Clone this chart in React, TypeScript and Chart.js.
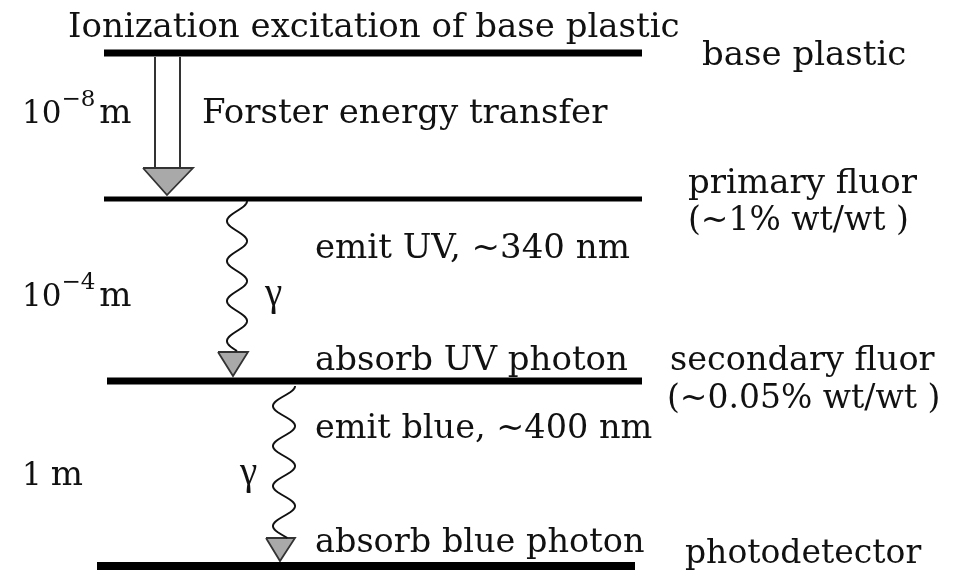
import React, { useEffect, useRef } from "react";
import { Chart, registerables } from "chart.js";
Chart.register(...registerables);

// ---- data (diagram content) ----
const caption = "Ionization excitation of base plastic";
const levelNames = ["base plastic", "primary fluor", "secondary fluor", "photodetector"];
const levelNotes = ["", "(~1% wt/wt )", "(~0.05% wt/wt )", ""];
const levelY = [53, 199, 381, 566];
const levelXStart = [104, 104, 107, 97];
const levelXEnd = [642, 642, 642, 635];
const transferLabels = ["Forster energy transfer", "emit UV, ~340 nm", "emit blue, ~400 nm"];
const absorbLabels = ["absorb UV photon", "absorb blue photon"];
const distanceBase = ["10", "10", "1"];
const distanceExp = ["\u22128", "\u22124", ""];
const photonSymbol = "\u03b3";

// ---- layout ----
const W = 959;
const H = 580;
const levelLineWidth = [7, 5, 7, 8];
const SERIF = '"DejaVu Serif", "Liberation Serif", serif';
const GREEK = '"Liberation Serif", "DejaVu Serif", serif';
const FS = 34;
const INK = "#111111";
const TRI_FILL = "#a9a9a9";
const TRI_EDGE = "#333333";

// Forster arrow: shafts and triangle
const shaftX = [155, 180];
const shaftTop = 57;
const shaftBottom = 169;
// triangles: [left, right, topY, apexX, apexY]
const triangles = [
  [143, 193, 168, 167, 195],
  [218, 248, 352, 233, 376],
  [266, 295, 538, 280, 561],
];
// waves: [centerX, amplitude, startY, endY]
const waves = [
  [237, 10, 201, 351],
  [284, 11, 386, 538],
];

const textItems: { t: string; x: number; y: number; font?: string; size?: number }[] = [
  { t: caption, x: 68, y: 37 },
  { t: levelNames[0], x: 702, y: 65 },
  { t: levelNames[1], x: 688, y: 193 },
  { t: levelNotes[1], x: 688, y: 230, size: 33 },
  { t: levelNames[2], x: 670, y: 370, size: 33.5 },
  { t: levelNotes[2], x: 667, y: 408, size: 33 },
  { t: levelNames[3], x: 685, y: 563, size: 33 },
  { t: transferLabels[0], x: 202, y: 123 },
  { t: transferLabels[1], x: 315, y: 258 },
  { t: transferLabels[2], x: 315, y: 438, size: 33.5 },
  { t: absorbLabels[0], x: 315, y: 370 },
  { t: absorbLabels[1], x: 315, y: 552, size: 33.5 },
  { t: photonSymbol, x: 265, y: 305, font: GREEK, size: 39 },
  { t: photonSymbol, x: 240, y: 484, font: GREEK, size: 39 },
];
const distancePos = [
  [22, 123],
  [22, 306],
  [22, 485],
];

const decorPlugin = {
  id: "decor",
  beforeDraw(chart: any) {
    const ctx = chart.ctx;
    ctx.save();
    ctx.fillStyle = "#ffffff";
    ctx.fillRect(0, 0, chart.width, chart.height);
    ctx.restore();
  },
  afterDatasetsDraw(chart: any) {
    const ctx = chart.ctx;
    const xs = chart.scales.x;
    const ys = chart.scales.y;
    const px = (v: number) => xs.getPixelForValue(v);
    const py = (v: number) => ys.getPixelForValue(v);
    ctx.save();
    // wavy photon lines
    ctx.strokeStyle = INK;
    ctx.lineWidth = 2;
    ctx.lineJoin = "round";
    waves.forEach(([cx, a, y0, y1]) => {
      ctx.beginPath();
      for (let y = y0; y <= y1; y += 0.5) {
        const x = cx + a * Math.cos((Math.PI * (y - y0)) / 20);
        if (y === y0) ctx.moveTo(px(x), py(y));
        else ctx.lineTo(px(x), py(y));
      }
      ctx.stroke();
    });
    // texts
    ctx.fillStyle = INK;
    ctx.textBaseline = "alphabetic";
    ctx.textAlign = "left";
    textItems.forEach((it) => {
      ctx.font = `${it.size || FS}px ${it.font || SERIF}`;
      ctx.fillText(it.t, px(it.x), py(it.y));
    });
    distancePos.forEach(([x, y], i) => {
      ctx.font = `31px ${SERIF}`;
      let cx = px(x);
      ctx.fillText(distanceBase[i], cx, py(y));
      cx += ctx.measureText(distanceBase[i]).width;
      if (distanceExp[i]) {
        ctx.font = `23px ${SERIF}`;
        ctx.fillText(distanceExp[i], cx, py(y - 17));
        cx += ctx.measureText(distanceExp[i]).width + 4;
      } else {
        cx += 9;
      }
      ctx.font = `${FS}px ${SERIF}`;
      ctx.fillText("m", cx, py(y));
    });
    ctx.restore();
  },
};

export default function App() {
  const ref = useRef<HTMLCanvasElement | null>(null);
  useEffect(() => {
    if (!ref.current) return;
    const datasets: any[] = [];
    levelY.forEach((y, i) => {
      datasets.push({
        data: [
          { x: levelXStart[i], y },
          { x: levelXEnd[i], y },
        ],
        borderColor: "#000000",
        borderWidth: levelLineWidth[i],
        borderCapStyle: "butt",
        pointRadius: 0,
        showLine: true,
      });
    });
    shaftX.forEach((x) => {
      datasets.push({
        data: [
          { x, y: shaftTop },
          { x, y: shaftBottom },
        ],
        borderColor: TRI_EDGE,
        borderWidth: 2,
        pointRadius: 0,
        showLine: true,
      });
    });
    triangles.forEach(([l, r, top, ax, ay]) => {
      datasets.push({
        data: [
          { x: l, y: top },
          { x: r, y: top },
          { x: ax, y: ay },
          { x: l, y: top },
        ],
        borderColor: TRI_EDGE,
        backgroundColor: TRI_FILL,
        borderWidth: 1.8,
        borderJoinStyle: "miter",
        pointRadius: 0,
        showLine: true,
        fill: "shape",
      });
    });
    const chart = new Chart(ref.current, {
      type: "scatter",
      data: { datasets },
      options: {
        animation: false,
        responsive: false,
        events: [],
        layout: { padding: 0 },
        plugins: { legend: { display: false }, tooltip: { enabled: false } },
        scales: {
          x: { type: "linear", min: 0, max: W, display: false },
          y: { type: "linear", min: 0, max: H, reverse: true, display: false },
        },
      },
      plugins: [decorPlugin],
    });
    return () => chart.destroy();
  }, []);
  return (
    <div style={{ position: "fixed", left: 0, top: 0, width: W, height: H, background: "#fff" }}>
      <canvas ref={ref} width={W} height={H} style={{ display: "block" }} />
    </div>
  );
}
